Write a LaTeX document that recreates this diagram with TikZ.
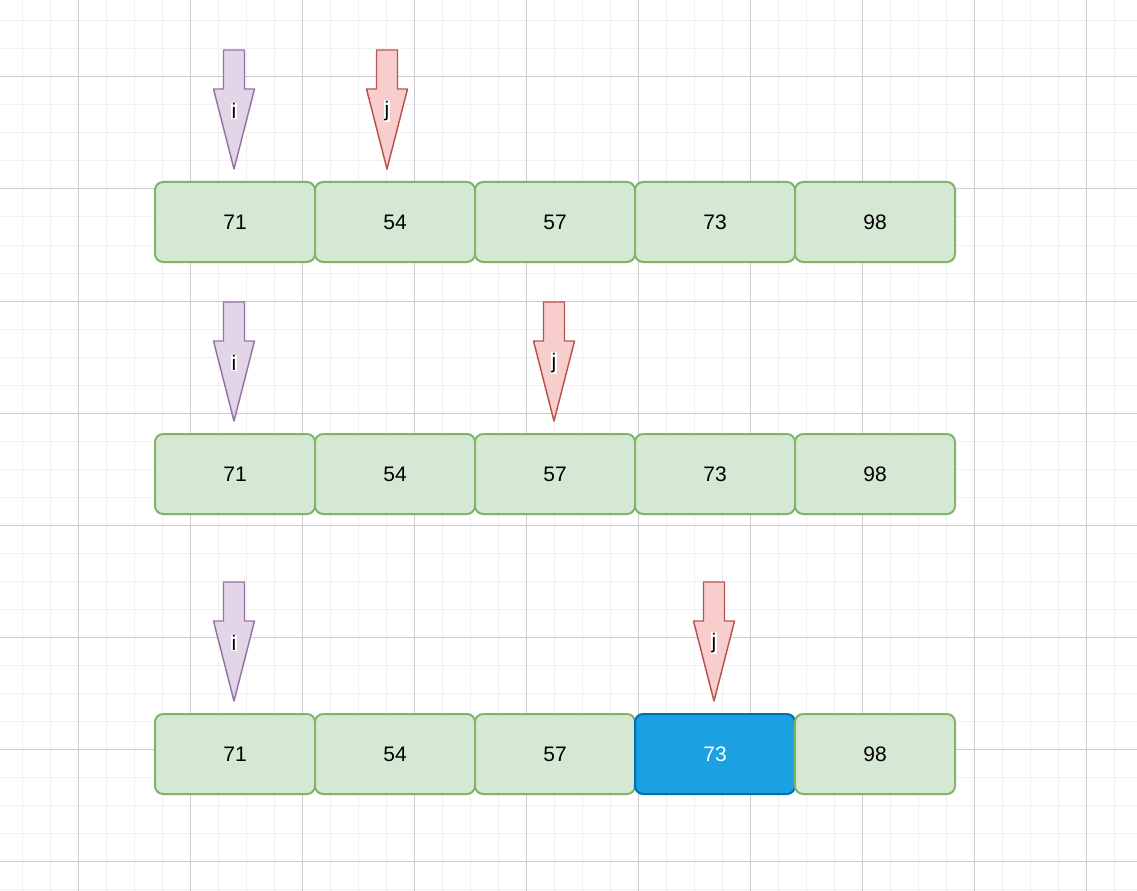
\documentclass[tikz,border=0pt]{standalone}
\usepackage{fontspec}
\setmainfont{Liberation Sans}
\usetikzlibrary{positioning}
\definecolor{cellfill}{HTML}{D5E8D4}
\definecolor{cellline}{HTML}{82B366}
\definecolor{hotfill}{HTML}{1BA1E2}
\definecolor{hotline}{HTML}{006EAF}
\definecolor{ifill}{HTML}{E1D5E7}
\definecolor{iline}{HTML}{9673A6}
\definecolor{jfill}{HTML}{F8CECC}
\definecolor{jline}{HTML}{B85450}
\tikzstyle{cell} = [draw=cellline, fill=cellfill, line width=1.5pt, rounded corners=6pt, minimum width=120pt, minimum height=60pt, inner sep=0pt, outer sep=0pt, font=\fontsize{15.75}{18}\selectfont]

% pointer arrow: style, name, x, top y, letter
\newcommand\pointer[5]{%
  \begin{scope}[shift={(#3,#4)}]
    \draw[#1] (-10.5,0) -- (10.5,0) -- (10.5,39) -- (20.5,39) -- (0,119)
      -- (-20.5,39) -- (-10.5,39) -- cycle;
    \node[tag] (#2) at (0,61) {#5};
  \end{scope}}

\begin{document}
\begin{tikzpicture}[
  x=0.75pt, y=-0.75pt,
  minor/.style={draw=black!6, line width=0.75pt},
  major/.style={draw=black!20, line width=0.75pt},
  iptr/.style={fill=ifill, draw=iline, line width=1.1pt, line join=round},
  jptr/.style={fill=jfill, draw=jline, line width=1.1pt, line join=round},
  tag/.style={fill=white, inner sep=0.6pt, font=\fontsize{15.75}{18}\selectfont},
  hot/.style={cell, draw=hotline, fill=hotfill, text=white}
]
\useasboundingbox (0,0) rectangle (1137,891);
\fill[white] (0,0) rectangle (1137,891);

% background grid
\foreach \x in {22,50,...,1137} \draw[minor] (\x,0) -- (\x,891);
\foreach \y in {21,49,...,891} \draw[minor] (0,\y) -- (1137,\y);
\foreach \x in {78,190,...,1137} \draw[major] (\x,0) -- (\x,891);
\foreach \y in {77,189,...,891} \draw[major] (0,\y) -- (1137,\y);

% first pass
\node[cell] (a1) at (235,222) {71};
\node[cell, right=0pt of a1] (a2) {54};
\node[cell, right=0pt of a2] (a3) {57};
\node[cell, right=0pt of a3] (a4) {73};
\node[cell, right=0pt of a4] (a5) {98};
\pointer{iptr}{ai}{234}{50}{i}
\pointer{jptr}{aj}{387}{50}{j}

% second pass
\node[cell] (b1) at (235,474) {71};
\node[cell, right=0pt of b1] (b2) {54};
\node[cell, right=0pt of b2] (b3) {57};
\node[cell, right=0pt of b3] (b4) {73};
\node[cell, right=0pt of b4] (b5) {98};
\pointer{iptr}{bi}{234}{302}{i}
\pointer{jptr}{bj}{554}{302}{j}

% third pass
\node[cell] (c1) at (235,754) {71};
\node[cell, right=0pt of c1] (c2) {54};
\node[cell, right=0pt of c2] (c3) {57};
\node[hot, right=0pt of c3] (c4) {73};
\node[cell, right=0pt of c4] (c5) {98};
\pointer{iptr}{ci}{234}{582}{i}
\pointer{jptr}{cj}{714}{582}{j}
\end{tikzpicture}
\end{document}
